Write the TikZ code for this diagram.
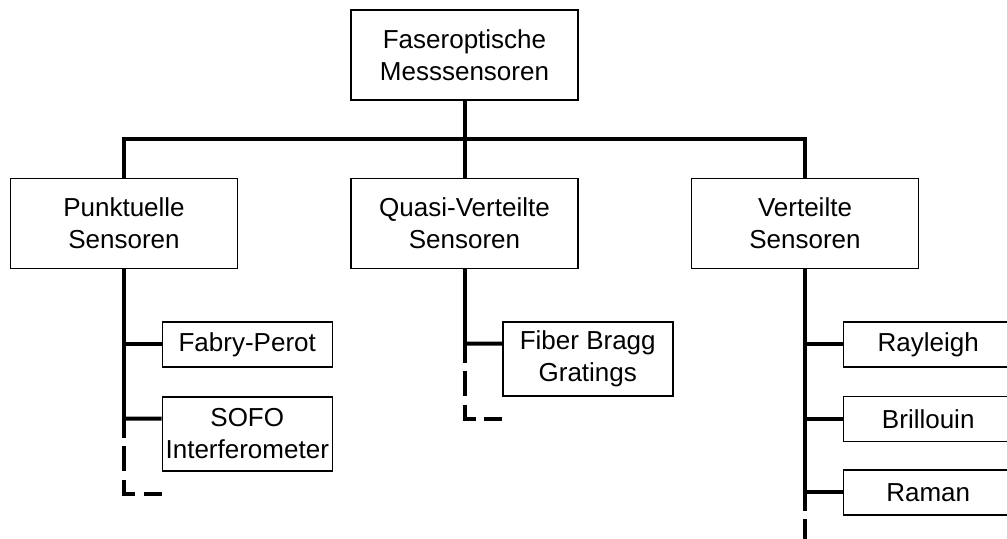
\documentclass[tikz,border=0pt]{standalone}
\usepackage{fontspec}
\setmainfont{Liberation Sans}
\usetikzlibrary{positioning, calc}

\begin{document}
\begin{tikzpicture}[
  font=\fontsize{14.8pt}{18.2pt}\selectfont,
  root/.style={
    draw, line width=0.03cm,
    minimum width=4.54cm, minimum height=1.8cm,
    align=center, inner sep=0pt
  },
  group/.style={root},
  leaf/.style={
    draw, line width=0.03cm,
    minimum width=3.4cm, minimum height=0.9cm,
    align=center, inner sep=0pt
  },
  twoline/.style={minimum height=1.48cm},
  bus/.style={line width=0.08cm},
  more/.style={bus, dash pattern=on 0.5cm off 0.17cm, dash phase=0.5cm}
]
  \useasboundingbox (0,0) rectangle (20.14,-10.78);

  \node[root] (fos) at (9.29,-1.10) {Faseroptische\\Messsensoren};

  \node[group, below=1.54cm of fos, xshift=-6.81cm] (pk) {Punktuelle\\Sensoren};
  \node[group, below=1.54cm of fos] (qv) {Quasi-Verteilte\\Sensoren};
  \node[group, below=1.54cm of fos, xshift=6.81cm] (vt) {Verteilte\\Sensoren};

  % leaves
  \node[leaf, below right=1.04cm and 0.75cm of pk.south] (fp) {Fabry-Perot};
  \node[leaf, twoline, below=0.57cm of fp] (sofo) {SOFO\\Interferometer};
  \node[leaf, twoline, below right=1.04cm and 0.75cm of qv.south] (fbg) {Fiber Bragg\\Gratings};
  \node[leaf, below right=1.04cm and 0.75cm of vt.south] (ray) {Rayleigh};
  \node[leaf, below=0.56cm of ray] (bri) {Brillouin};
  \node[leaf, below=0.54cm of bri] (ram) {Raman};

  % bus
  \coordinate (bus) at ($(fos.south)!0.5!(qv.north)$);
  \draw[bus] (fos.south) -- (qv.north);
  \draw[bus] (pk.north) -- (pk.north |- bus) -- (vt.north |- bus) -- (vt.north);

  % trunks
  \coordinate (pkend) at ($(pk.south |- sofo.north)+(0,-0.83)$);
  \coordinate (qvend) at ($(qv.south |- fbg.north)+(0,-0.83)$);
  \coordinate (vtend) at ($(vt.south |- ram.north)+(0,-0.83)$);
  \draw[bus] (pk.south) -- (pkend);
  \draw[bus] (qv.south) -- (qvend);
  \draw[bus] (vt.south) -- (vtend);

  \draw[bus] (pk.south |- fp.west) -- (fp.west);
  \draw[bus] (pk.south |- sofo.north) ++(0,-0.45) -- ([yshift=-0.45cm]sofo.north west);
  \draw[bus] (qv.south |- fbg.north) ++(0,-0.45) -- ([yshift=-0.45cm]fbg.north west);
  \draw[bus] (vt.south |- ray.west) -- (ray.west);
  \draw[bus] (vt.south |- bri.west) -- (bri.west);
  \draw[bus] (vt.south |- ram.west) -- (ram.west);

  % continued
  \coordinate (pkfree) at ($(pkend)+(0,-1.12)$);
  \coordinate (qvfree) at ($(qvend)+(0,-1.12)$);
  \coordinate (vtfree) at ($(vtend)+(0,-0.7)$);
  \draw[more] (pkend) -- (pkfree) -- (pkfree -| sofo.west);
  \draw[more] (qvend) -- (qvfree) -- (qvfree -| fbg.west);
  \draw[more] (vtend) -- (vtfree);

\end{tikzpicture}
\end{document}
